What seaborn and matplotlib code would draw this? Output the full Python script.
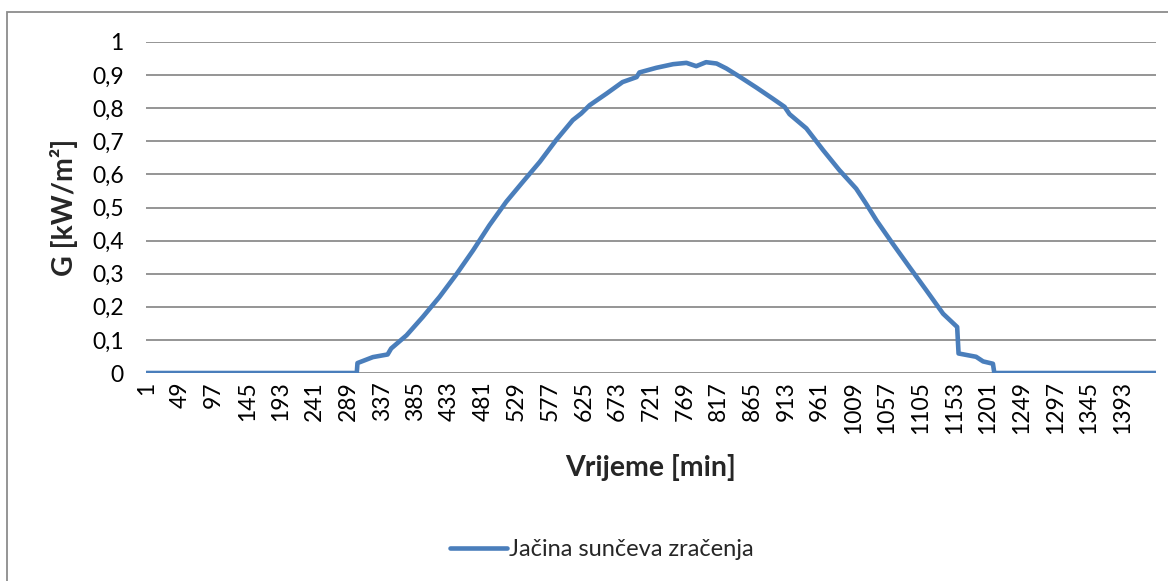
import matplotlib
matplotlib.use("Agg")
import matplotlib.pyplot as plt
from matplotlib.patches import Rectangle
from matplotlib.ticker import FuncFormatter
import seaborn as sns
import pandas as pd

# Solar irradiance over one day, sampled at the minutes where the curve changes shape
minutes = [1, 100, 200, 301, 302, 324, 345, 350, 372, 395, 419, 443, 467, 490,
           514, 538, 562, 585, 609, 621, 633, 657, 680, 700, 704, 728, 752, 771,
           785, 799, 814, 828, 847, 871, 894, 911, 918, 942, 966, 989, 1013,
           1027, 1042, 1065, 1089, 1113, 1137, 1157, 1159, 1184, 1194, 1208,
           1210, 1300, 1440]
irradiance = [0, 0, 0, 0, 0.030, 0.048, 0.056, 0.074, 0.114, 0.169, 0.230, 0.298,
              0.371, 0.446, 0.517, 0.578, 0.638, 0.703, 0.764, 0.784, 0.809, 0.844,
              0.879, 0.894, 0.908, 0.922, 0.933, 0.937, 0.927, 0.939, 0.935, 0.920,
              0.895, 0.862, 0.829, 0.804, 0.782, 0.739, 0.673, 0.613, 0.557, 0.512,
              0.461, 0.391, 0.320, 0.250, 0.179, 0.139, 0.059, 0.049, 0.035, 0.028,
              0, 0, 0]

tick_minutes = list(range(1, 1441, 48))
series_name = "Jačina sunčeva zračenja"

df = pd.DataFrame({"Vrijeme": minutes, "G": irradiance, "serija": series_name})

sns.set_theme(style="white")
plt.rcParams["font.family"] = ["Lato", "DejaVu Sans"]

W, H = 1168, 581
fig = plt.figure(figsize=(W / 100, H / 100), dpi=100)
ax = fig.add_axes([146 / W, 1 - 373 / H, (1156 - 146) / W, (373 - 42) / H])

line_color = "#4A7EBB"
sns.lineplot(data=df, x="Vrijeme", y="G", hue="serija", palette=[line_color],
             linewidth=3.3, ax=ax, legend=True)

ax.set_xlim(0.5, 1440.5)
ax.set_ylim(0, 1)
ax.set_yticks([i / 10 for i in range(11)])
ax.yaxis.set_major_formatter(FuncFormatter(
    lambda v, _: "0" if abs(v) < 1e-9 else ("1" if abs(v - 1) < 1e-9 else f"{v:.1f}".replace(".", ","))))
ax.set_xticks(tick_minutes)
ax.set_xticklabels([str(t) for t in tick_minutes], rotation=90)

ax.grid(axis="y", color="#8C8C8C", linewidth=1.3)
ax.set_axisbelow(True)
for side in ["top", "right", "left", "bottom"]:
    ax.spines[side].set_visible(False)
ax.tick_params(axis="both", length=0, labelsize=16.5, colors="black")
ax.tick_params(axis="y", pad=16)
ax.tick_params(axis="x", pad=6)

ax.set_xlabel("Vrijeme [min]", fontsize=20.5, fontweight="bold", labelpad=14)
ax.set_ylabel("G [kW/m²]", fontsize=20.5, fontweight="bold", labelpad=10)

handles, labels = ax.get_legend_handles_labels()
ax.legend_.remove()
fig.legend(handles, labels, loc="center", bbox_to_anchor=(602 / W, 1 - 550 / H),
           frameon=False, fontsize=17, handlelength=2.4, handletextpad=0.1)

# Chart area border
fig.patches.append(Rectangle((7 / W, -0.1), 1.2, 1 - 12 / H + 0.1,
                             transform=fig.transFigure, fill=False,
                             edgecolor="#8C8C8C", linewidth=1.3))

fig.savefig("out.png", dpi=100, facecolor="white")
